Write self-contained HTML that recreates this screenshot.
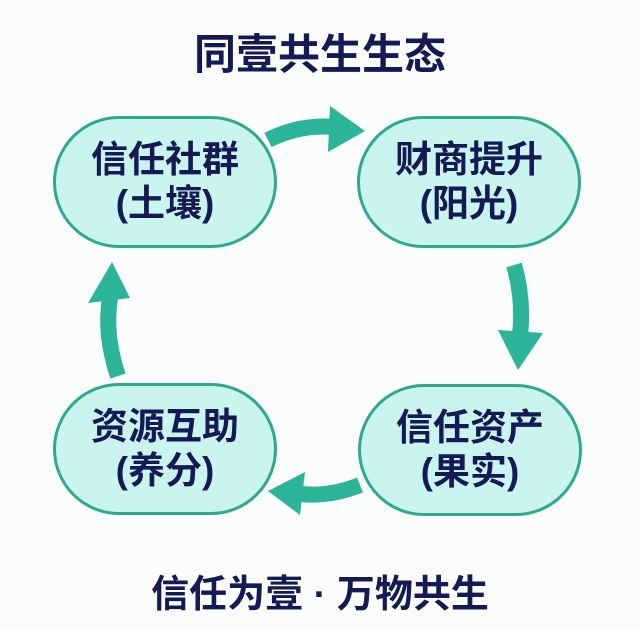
<!DOCTYPE html>
<html><head><meta charset="utf-8"><style>
body{margin:0;width:640px;height:630px;background:#fbfdfd;overflow:hidden;position:relative;font-family:"Liberation Sans","Noto Sans CJK SC",sans-serif;}
.t{position:absolute;left:0;width:640px;text-align:center;font-weight:bold;color:#151a55;}
.p{position:absolute;width:224px;height:132px;border:3px solid #2ea98e;border-radius:66px;background:#c9f5ee;box-sizing:border-box;color:#151a55;font-weight:bold;font-size:37px;line-height:44px;text-align:center;padding-top:19px;}
</style></head><body>
<div class="t" style="top:21px;font-size:42px;">同壹共生生态</div>
<div class="p" style="left:53px;top:116px;">信任社群<br>(土壤)</div>
<div class="p" style="left:357px;top:116px;">财商提升<br>(阳光)</div>
<div class="p" style="left:53px;top:383px;">资源互助<br>(养分)</div>
<div class="p" style="left:358px;top:384px;">信任资产<br>(果实)</div>
<svg width="640" height="630" style="position:absolute;left:0;top:0" viewBox="0 0 640 630">
<g fill="none" stroke="#2bb497" stroke-width="16">
<path d="M268 140 Q300 124 335 127"/>
<path d="M514 265 Q524 300 520 335"/>
<path d="M360 485 Q330 497 300 494"/>
<path d="M118 376 Q104 335 110 298"/>
</g>
<g fill="#2bb497">
<polygon points="330,106 365,131 328,152"/>
<polygon points="498,330 543,333 518,370"/>
<polygon points="305,472 268,491 300,515"/>
<polygon points="88,303 130,298 112,262"/>
</g>
</svg>
<div class="t" style="top:563px;font-size:38px;">信任为壹 · 万物共生</div>
</body></html>
